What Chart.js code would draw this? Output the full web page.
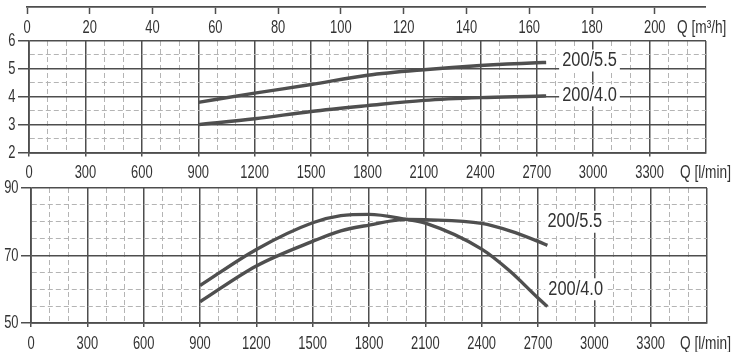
<!DOCTYPE html>
<html>
<head>
<meta charset="utf-8">
<script src="https://cdn.jsdelivr.net/npm/chart.js@4.4.1/dist/chart.umd.min.js"></script>
<style>
  html, body { margin: 0; padding: 0; background: #fff; }
  body { width: 748px; height: 352px; position: relative; overflow: hidden; }
  canvas { position: absolute; left: 0; }
  #axisM3h { top: 0; }
  #chartHead { top: 20px; }
  #chartEff { top: 170px; }
</style>
</head>
<body>
<canvas id="axisM3h" width="748" height="40"></canvas>
<canvas id="chartHead" width="748" height="162"></canvas>
<canvas id="chartEff" width="748" height="182"></canvas>
<script>
// flow points (l/min) and curve values
const flowHead = [900, 1200, 1500, 1800, 2100, 2400, 2700, 2750];
const head55 = [3.8, 4.13, 4.44, 4.77, 4.97, 5.12, 5.22, 5.23];
const head40 = [3.0, 3.21, 3.47, 3.68, 3.87, 3.97, 4.02, 4.03];

const flowEff = [900, 1200, 1500, 1650, 1800, 2000, 2100, 2400, 2550, 2700, 2750];
const eff55 = [56.3, 66.9, 74.2, 77.3, 79.0, 80.7, 80.6, 79.5, 77.3, 74.2, 73.0];
const eff40 = [61.1, 71.8, 79.7, 81.8, 82.2, 80.7, 79.6, 71.9, 65.4, 57.4, 54.9];

const flowTicksLpm = [0, 300, 600, 900, 1200, 1500, 1800, 2100, 2400, 2700, 3000, 3300];
const flowTicksM3h = [0, 20, 40, 60, 80, 100, 120, 140, 160, 180, 200];
const headTicks = [2, 3, 4, 5, 6];
const effTicks = [50, 70, 90];

const FONT = '"Liberation Sans", Arial, sans-serif';
const INK = "#333";
const MAJOR = "#4e4e4e";
const MINOR = "#b4b4b4";
const CURVE = "#4f4f4f";

function toPoints(xs, ys) {
  return xs.map((x, i) => ({ x, y: ys[i] }));
}

function curve(label, xs, ys) {
  return {
    label,
    data: toPoints(xs, ys),
    borderColor: CURVE,
    borderWidth: 3.4,
    pointRadius: 0,
    fill: false,
    cubicInterpolationMode: "monotone"
  };
}

// the sheet uses a tall narrow lettering, so text is squeezed horizontally
function narrowText(ctx, text, x, y, align, size, sx) {
  ctx.save();
  ctx.font = size + "px " + FONT;
  ctx.textAlign = align;
  ctx.textBaseline = "middle";
  ctx.translate(x, y);
  ctx.scale(sx, 1);
  ctx.fillText(text, 0, 0);
  ctx.restore();
}

const sheetText = {
  id: "sheetText",
  afterDraw(chart, args, opts) {
    const { ctx } = chart;
    const x = chart.scales.x;
    const y = chart.scales.y;
    ctx.save();
    ctx.fillStyle = INK;
    (opts.xLabels || []).forEach((v) => {
      narrowText(ctx, String(v), x.getPixelForValue(v), x.top + opts.xDy, "center", 19, 0.68);
    });
    if (y && y.options.display) {
      (opts.yLabels || []).forEach((v) => {
        narrowText(ctx, String(v), opts.yRight, y.getPixelForValue(v), "right", 19, 0.68);
      });
    }
    (opts.items || []).forEach((item) => {
      const px = x.getPixelForValue(item.x);
      const py = y.getPixelForValue(item.y);
      ctx.font = "20px " + FONT;
      const w = ctx.measureText(item.text).width * 0.82;
      ctx.fillStyle = "#fff";
      ctx.fillRect(px - 3, py - 11, w + 6, 22);
      ctx.fillStyle = INK;
      narrowText(ctx, item.text, px, py, "left", 20, 0.82);
    });
    if (opts.unit) {
      narrowText(ctx, opts.unit, x.right + opts.unitDx, x.top + opts.xDy, "left", 19, 0.72);
    }
    ctx.restore();
  }
};

function xAxis(height) {
  return {
    type: "linear",
    min: 0,
    max: 3600,
    afterFit: (s) => { s.height = height; },
    afterBuildTicks: (s) => {
      const t = [];
      for (let v = 0; v <= 3600; v += 100) t.push({ value: v });
      s.ticks = t;
    },
    ticks: { display: false, autoSkip: false },
    grid: {
      color: (c) => (c.tick && c.tick.value % 300 === 0 ? MAJOR : MINOR),
      lineWidth: (c) => (c.tick && c.tick.value % 300 === 0 ? 1.5 : 1),
      tickColor: (c) => (c.tick && c.tick.value % 300 === 0 && c.tick.value < 3600 ? MAJOR : "rgba(0,0,0,0)"),
      tickLength: 4,
      tickWidth: 1.5
    },
    border: {
      color: MAJOR,
      width: 1.8,
      dash: (c) => (c.tick && c.tick.value % 300 !== 0 ? [5, 3] : [])
    }
  };
}

function yAxis(min, max, step, labels, width, tickLen, isMajor) {
  return {
    type: "linear",
    min,
    max,
    afterFit: (s) => { s.width = width; },
    afterBuildTicks: (s) => {
      const t = [];
      for (let v = min; v <= max + 1e-9; v += step) t.push({ value: Math.round(v * 100) / 100 });
      s.ticks = t;
    },
    ticks: { display: false, autoSkip: false },
    grid: {
      color: (c) => (c.tick && isMajor(c.tick.value) ? MAJOR : MINOR),
      lineWidth: (c) => (c.tick && isMajor(c.tick.value) ? 1.5 : 1),
      tickColor: (c) => (c.tick && labels.includes(c.tick.value) ? MAJOR : "rgba(0,0,0,0)"),
      tickLength: tickLen,
      tickWidth: 1.5
    },
    border: {
      color: MAJOR,
      width: 1.8,
      dash: (c) => (c.tick && !isMajor(c.tick.value) ? [5, 3] : [])
    }
  };
}

// top m3/h scale
new Chart(document.getElementById("axisM3h"), {
  type: "line",
  data: { datasets: [] },
  plugins: [sheetText],
  options: {
    responsive: false,
    animation: false,
    layout: { padding: { left: 27, right: 43, top: 1, bottom: 0 } },
    plugins: {
      legend: { display: false },
      tooltip: { enabled: false },
      sheetText: { xLabels: flowTicksM3h, xDy: 21, unit: "Q [m\u00b3/h]", unitDx: -28 }
    },
    scales: {
      x: {
        type: "linear",
        min: 0,
        max: 216,
        afterFit: (s) => { s.height = 33; },
        afterBuildTicks: (s) => { s.ticks = flowTicksM3h.map((v) => ({ value: v })); },
        ticks: { display: false },
        grid: { drawOnChartArea: false, tickLength: 7, tickColor: MAJOR, tickWidth: 1.5 },
        border: { color: MAJOR, width: 1.8 }
      },
      y: { display: false, min: 0, max: 1 }
    }
  }
});

new Chart(document.getElementById("chartHead"), {
  type: "line",
  data: {
    datasets: [curve("200/5.5", flowHead, head55), curve("200/4.0", flowHead, head40)]
  },
  plugins: [sheetText],
  options: {
    responsive: false,
    animation: false,
    layout: { padding: { left: 0, right: 42, top: 21, bottom: 0 } },
    plugins: {
      legend: { display: false },
      tooltip: { enabled: false },
      sheetText: {
        xLabels: flowTicksLpm,
        xDy: 20.5,
        yLabels: headTicks,
        yRight: 15.5,
        items: [
          { text: "200/5.5", x: 2835, y: 5.3 },
          { text: "200/4.0", x: 2835, y: 4.05 }
        ],
        unit: "Q [l/min]",
        unitDx: -26
      }
    },
    scales: {
      x: xAxis(29.5),
      y: yAxis(2, 6, 0.5, headTicks, 29, 11, (v) => v % 1 === 0)
    }
  }
});

new Chart(document.getElementById("chartEff"), {
  type: "line",
  data: {
    datasets: [curve("200/5.5", flowEff, eff55), curve("200/4.0", flowEff, eff40)]
  },
  plugins: [sheetText],
  options: {
    responsive: false,
    animation: false,
    layout: { padding: { left: 0, right: 41, top: 18, bottom: 0 } },
    plugins: {
      legend: { display: false },
      tooltip: { enabled: false },
      sheetText: {
        xLabels: flowTicksLpm,
        xDy: 20.5,
        yLabels: effTicks,
        yRight: 18.5,
        items: [
          { text: "200/5.5", x: 2750, y: 80 },
          { text: "200/4.0", x: 2755, y: 60 }
        ],
        unit: "Q [l/min]",
        unitDx: -27
      }
    },
    scales: {
      x: xAxis(29),
      y: yAxis(50, 90, 5, effTicks, 31, 10, (v) => v % 20 === 10)
    }
  }
});
</script>
</body>
</html>
